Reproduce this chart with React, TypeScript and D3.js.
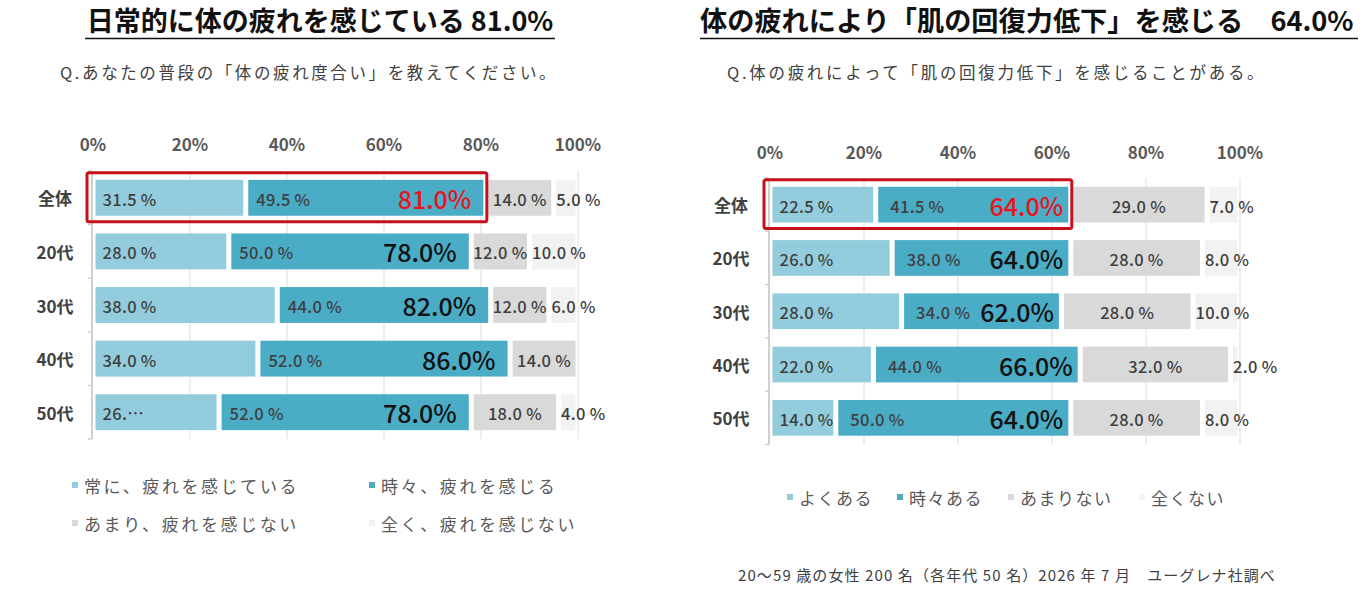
import React from "react";
import * as d3 from "d3";

// 行ラベル
const categories = ["全体", "20代", "30代", "40代", "50代"];
const tickValues = [0, 20, 40, 60, 80, 100];

// Q.あなたの普段の「体の疲れ度合い」
const fatigueAlways = [31.5, 28.0, 38.0, 34.0, 26.0];
const fatigueSometimes = [49.5, 50.0, 44.0, 52.0, 52.0];
const fatigueRarely = [14.0, 12.0, 12.0, 14.0, 18.0];
const fatigueNever = [5.0, 10.0, 6.0, 0, 4.0];
const fatigueTotals = [81.0, 78.0, 82.0, 86.0, 78.0];
const fatigueLegend = ["常に、疲れを感じている", "時々、疲れを感じる", "あまり、疲れを感じない", "全く、疲れを感じない"];

// Q.体の疲れによって「肌の回復力低下」を感じることがある
const skinOften = [22.5, 26.0, 28.0, 22.0, 14.0];
const skinSometimes = [41.5, 38.0, 34.0, 44.0, 50.0];
const skinRarely = [29.0, 28.0, 28.0, 32.0, 28.0];
const skinNever = [7.0, 8.0, 10.0, 2.0, 8.0];
const skinTotals = [64.0, 64.0, 62.0, 66.0, 64.0];
const skinLegend = ["よくある", "時々ある", "あまりない", "全くない"];

// Excel truncated this one label ("26.…")
const truncatedLabels = [{ chart: "fatigue", row: 4, series: 0 }];

const seriesColors = ["#93cddd", "#4bacc6", "#d9d9d9", "#f2f2f2"];
const FONT = "'Noto Sans CJK JP', 'Noto Sans', sans-serif";
const keys = ["s0", "s1", "s2", "s3"];

interface PanelCfg {
  id: string;
  series: number[][];
  totals: number[];
  xRange: [number, number];
  yRange: [number, number];
  tickY: number;
  catX: number;
  pad2: number;
  totalPad: number;
}

const Panel: React.FC<{ cfg: PanelCfg }> = ({ cfg }) => {
  const x = d3.scaleLinear().domain([0, 100]).range(cfg.xRange);
  const y = d3.scaleBand<string>().domain(categories).range(cfg.yRange).paddingInner(0.33).paddingOuter(0.165);
  const rows = categories.map((c, i) => ({ cat: c, s0: cfg.series[0][i], s1: cfg.series[1][i], s2: cfg.series[2][i], s3: cfg.series[3][i] }));
  const stacked = d3.stack<any>().keys(keys)(rows);
  const bw = y.bandwidth();
  const step = y.step();
  const gap = 2.5;

  const fmt = (v: number, row: number, s: number) => {
    const t = `${v.toFixed(1)} %`;
    const cut = truncatedLabels.some(d => d.chart === cfg.id && d.row === row && d.series === s);
    return cut ? t.slice(0, 3) + "…" : t;
  };

  const top = cfg.yRange[0];
  const bottom = cfg.yRange[1];
  const firstY = y(categories[0])!;

  return (
    <g>
      {/* gridlines */}
      {tickValues.slice(1).map(t => (
        <line key={t} x1={x(t)} x2={x(t)} y1={top} y2={bottom} stroke="#e3e3e3" strokeWidth={1.2} />
      ))}
      {/* tick labels */}
      {tickValues.map(t => (
        <text key={t} x={x(t)} y={cfg.tickY} textAnchor="middle" dominantBaseline="central"
          fontSize={17} fontWeight={700} fill="#595959">{t}%</text>
      ))}
      {/* axis */}
      <line x1={x(0) - 1} x2={x(0) - 1} y1={top} y2={bottom} stroke="#d0d0d0" strokeWidth={2} />
      {d3.range(categories.length + 1).map(i => (
        <line key={i} x1={x(0) - 5} x2={x(0) - 1} y1={top + i * step} y2={top + i * step} stroke="#d0d0d0" strokeWidth={1.5} />
      ))}
      {/* category labels */}
      {categories.map(c => (
        <text key={c} x={cfg.catX} y={y(c)! + bw / 2} textAnchor="middle" dominantBaseline="central"
          fontSize={17} fontWeight={700} fill="#404040">{c}</text>
      ))}
      {/* segments */}
      {stacked.map((layer, s) => (
        <g key={layer.key}>
          {layer.map((d, i) => {
            const v = d[1] - d[0];
            if (v <= 0) return null;
            const x0 = x(d[0]) + gap;
            const w = x(d[1]) - x(d[0]) - gap * 2;
            const cy = y(categories[i])! + bw / 2;
            let lx = x0 + 7;
            let anchor: "start" | "middle" = "start";
            if (s === 1) lx = x0 + cfg.pad2;
            if (s === 2) { lx = x0 + w / 2; anchor = "middle"; }
            if (s === 3) lx = x0;
            return (
              <g key={i}>
                <rect x={x0} y={y(categories[i])} width={w} height={bw} fill={seriesColors[s]} />
                <text x={lx} y={cy + 1} textAnchor={anchor} dominantBaseline="central"
                  fontSize={16.5} fontWeight={500} fill="#3f3f3f" letterSpacing={0.3}>{fmt(v, i, s)}</text>
              </g>
            );
          })}
        </g>
      ))}
      {/* totals */}
      {cfg.totals.map((t, i) => (
        <text key={i} x={x(t) - gap - cfg.totalPad} y={y(categories[i])! + bw / 2} textAnchor="end" dominantBaseline="central"
          fontSize={25} fontWeight={500} fill={i === 0 ? "#e8141e" : "#111"}>{t.toFixed(1)}%</text>
      ))}
      {/* highlight box */}
      <rect x={x(0) - 6} y={firstY - 7} width={x(cfg.totals[0]) + 1 - (x(0) - 6)} height={bw + 13}
        fill="none" stroke="#c8101a" strokeWidth={3} rx={2} />
    </g>
  );
};

const Legend: React.FC<{ items: string[]; pos: [number, number][]; spacing: number }> = ({ items, pos, spacing }) => (
  <g>
    {items.map((t, i) => (
      <g key={t} transform={`translate(${pos[i][0]},${pos[i][1]})`}>
        <rect x={0} y={-3} width={6} height={6} fill={seriesColors[i]} />
        <text x={12} y={0} dominantBaseline="central" fontSize={17} fill="#595959" letterSpacing={spacing}>{t}</text>
      </g>
    ))}
  </g>
);

export default function App() {
  const left: PanelCfg = {
    id: "fatigue",
    series: [fatigueAlways, fatigueSometimes, fatigueRarely, fatigueNever],
    totals: fatigueTotals,
    xRange: [93, 578],
    yRange: [171, 439],
    tickY: 143,
    catX: 55,
    pad2: 8,
    totalPad: 12,
  };
  const right: PanelCfg = {
    id: "skin",
    series: [skinOften, skinSometimes, skinRarely, skinNever],
    totals: skinTotals,
    xRange: [770, 1240],
    yRange: [178, 444.5],
    tickY: 151,
    catX: 731,
    pad2: 12,
    totalPad: 5,
  };
  return (
    <svg width={1372} height={590} style={{ position: "absolute", left: 0, top: 0, background: "#fff" }} fontFamily={FONT}>
      <rect width={1372} height={590} fill="#fff" />
      {/* left titles */}
      <text x={320} y={31} textAnchor="middle" fontSize={27} fontWeight={700} fill="#111">日常的に体の疲れを感じている 81.0%</text>
      <line x1={85} x2={555} y1={38.5} y2={38.5} stroke="#111" strokeWidth={1.5} />
      <text x={60} y={79} fontSize={16.5} fill="#404040" letterSpacing={2.6}>Q.あなたの普段の「体の疲れ度合い」を教えてください。</text>
      {/* right titles */}
      <text x={700} y={31} fontSize={27.2} fontWeight={700} fill="#111">体の疲れにより「肌の回復力低下」を感じる　64.0%</text>
      <line x1={700} x2={1358} y1={38.5} y2={38.5} stroke="#111" strokeWidth={1.5} />
      <text x={727} y={79} fontSize={16.5} fill="#404040" letterSpacing={2.7}>Q.体の疲れによって「肌の回復力低下」を感じることがある。</text>

      <Panel cfg={left} />
      <Panel cfg={right} />

      <Legend items={fatigueLegend} pos={[[72, 485], [369, 485], [72, 523], [369, 523]]} spacing={2.6} />
      <Legend items={skinLegend} pos={[[787, 497], [897, 497], [1008, 497], [1139, 497]]} spacing={1.5} />

      <text x={738} y={581} fontSize={15} fill="#404040" letterSpacing={1.1}>20～59 歳の女性 200 名（各年代 50 名）2026 年 7 月　ユーグレナ社調べ</text>
    </svg>
  );
}
